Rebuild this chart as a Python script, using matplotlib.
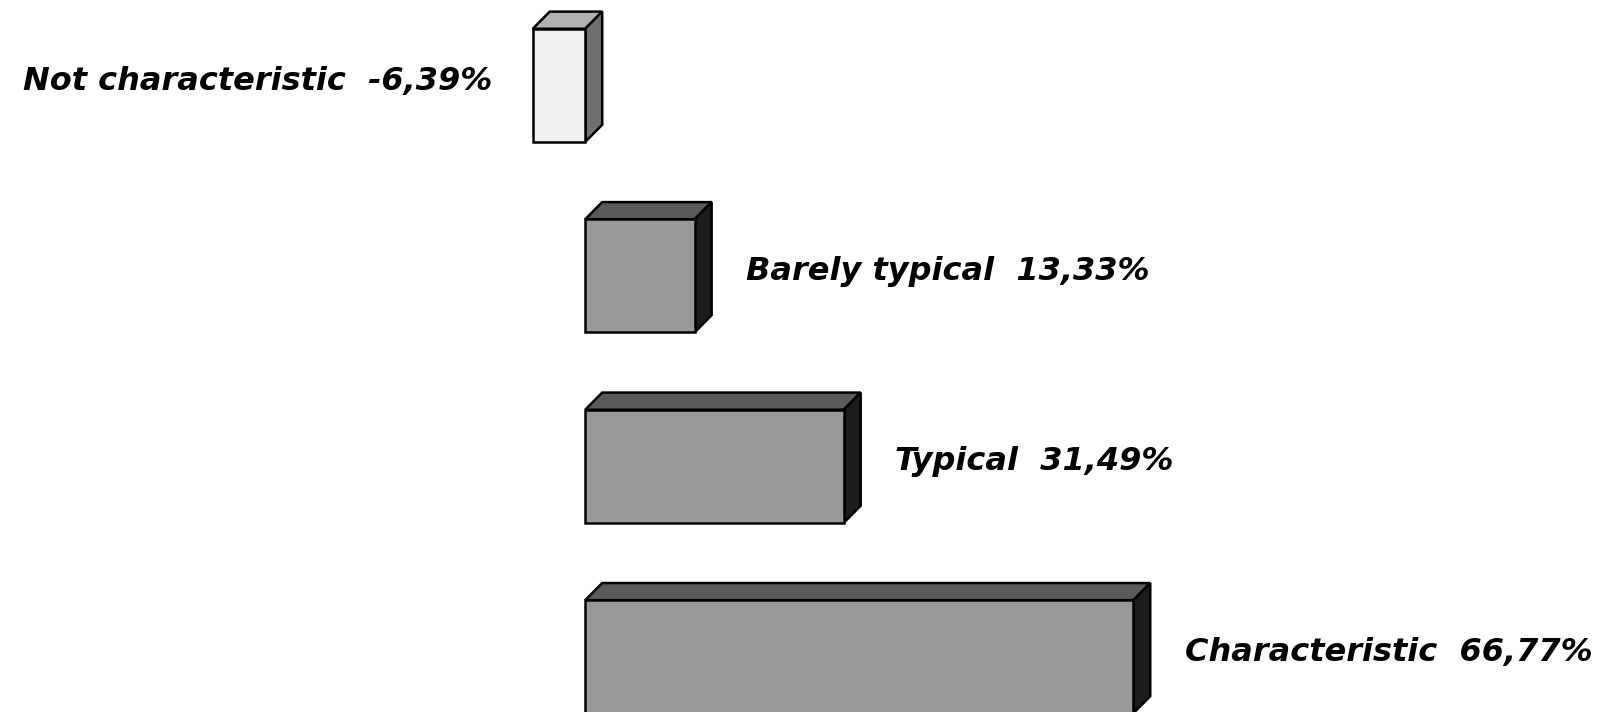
import matplotlib.pyplot as plt
from matplotlib.patches import Polygon

# Category scores (percent), top to bottom
categories = ['Not characteristic', 'Barely typical', 'Typical', 'Characteristic']
values = [-6.39, 13.33, 31.49, 66.77]

# Face shades for the pseudo-3D boxes
front_colors = ['#f0f0f0', '#999999', '#999999', '#999999']
top_colors = ['#b2b2b2', '#5a5a5a', '#5a5a5a', '#5a5a5a']
side_colors = ['#707070', '#1c1c1c', '#1c1c1c', '#1c1c1c']

fig = plt.figure(figsize=(16.03, 7.12), dpi=100)
ax = fig.add_axes([0, 0, 1, 1])
ax.set_xlim(-71.3, 124.0)
ax.set_ylim(3.29, -0.448)
ax.axis('off')

bar_h = 0.594
dx, dy = 2.07, 0.09  # depth of the box in data units

bars = ax.barh(range(len(values)), values, height=bar_h, color=front_colors,
               edgecolor='black', linewidth=1.8, zorder=3)

for bar, name, val, tc, sc in zip(bars, categories, values, top_colors, side_colors):
    xl = min(bar.get_x(), bar.get_x() + bar.get_width())
    xr = max(bar.get_x(), bar.get_x() + bar.get_width())
    y0 = bar.get_y()
    y1 = y0 + bar.get_height()
    top = Polygon([(xl, y0), (xl + dx, y0 - dy), (xr + dx, y0 - dy), (xr, y0)],
                  closed=True, facecolor=tc, edgecolor='black', linewidth=1.8, zorder=2)
    side = Polygon([(xr, y0), (xr + dx, y0 - dy), (xr + dx, y1 - dy), (xr, y1)],
                   closed=True, facecolor=sc, edgecolor='black', linewidth=1.8, zorder=2)
    ax.add_patch(top)
    ax.add_patch(side)

    label = f'{name}  {val:.2f}%'.replace('.', ',')
    yc = (y0 + y1) / 2 - dy / 4
    if val < 0:
        ax.annotate(label, (xl, yc), xytext=(-29, 0), textcoords='offset points',
                    ha='right', va='center', fontsize=23, fontweight='bold', style='italic')
    else:
        ax.annotate(label, (xr, yc), xytext=(37, 0), textcoords='offset points',
                    ha='left', va='center', fontsize=23, fontweight='bold', style='italic')

plt.savefig('out.png', dpi=100)
